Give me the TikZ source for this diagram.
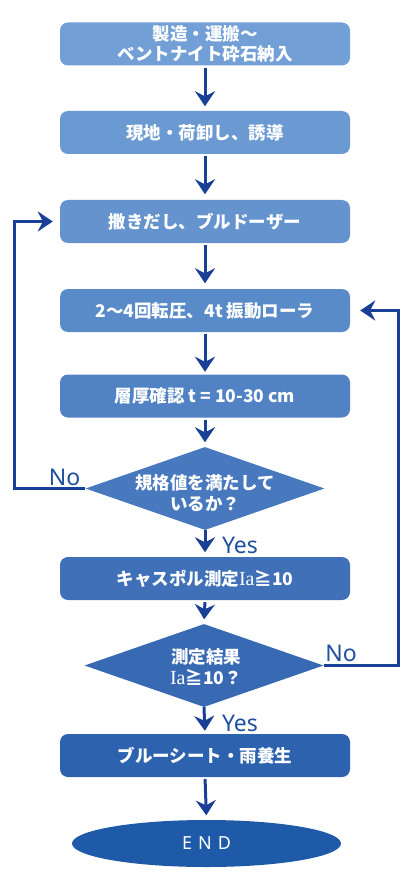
\documentclass[tikz,border=0pt]{standalone}
\usepackage{fontspec}
\usetikzlibrary{shapes.geometric,arrows.meta}
\newfontfamily\jp{Noto Sans CJK JP}
\newfontfamily\lab{Noto Sans}
\newfontfamily\ser{Liberation Serif}
\newcommand{\myIa}{{\ser\mdseries\fontsize{20}{20}\selectfont Ia}}
\definecolor{c1}{HTML}{72A0D6}
\definecolor{c2}{HTML}{6B9AD2}
\definecolor{c3}{HTML}{6493CE}
\definecolor{c4}{HTML}{5A8BC9}
\definecolor{c5}{HTML}{5082C4}
\definecolor{c6}{HTML}{4878BE}
\definecolor{c7}{HTML}{3F70B8}
\definecolor{c8}{HTML}{3869B3}
\definecolor{c9}{HTML}{2D62AE}
\definecolor{c10}{HTML}{1F5AA8}
\definecolor{arrc}{HTML}{1A3F97}
\definecolor{labc}{HTML}{1F4FA0}
\begin{document}
\begin{tikzpicture}[x=1pt,y=-1pt,
  jptext/.style={text=white, font=\jp\bfseries\fontsize{17.5}{20.5}\selectfont, align=center},
  box/.style={rectangle, rounded corners=8pt, minimum width=290pt, minimum height=43pt, inner sep=0pt, jptext},
  dia/.style={diamond, minimum width=239pt, minimum height=83pt, inner sep=0pt},
  arr/.style={draw=arrc, line width=3pt, -{Stealth[length=15pt,width=20pt,inset=5pt]}, shorten >=4.5pt},
  loop/.style={draw=arrc, line width=3pt, -{Stealth[length=15pt,width=20pt,inset=5pt]}},
  yn/.style={text=labc, font=\lab\fontsize{23}{26}\selectfont, inner sep=0pt, anchor=base}
]
\useasboundingbox (0,0) rectangle (407,893);
\node[box, fill=c1] (b1) at (205,44) {製造・運搬～\\ベントナイト砕石納入};
\node[box, fill=c2] (b2) at (205,132.5) {現地・荷卸し、誘導};
\node[box, fill=c3] (b3) at (205,221.5) {撒きだし、ブルドーザー};
\node[box, fill=c4] (b4) at (205,310.5) {2～4回転圧、4t 振動ローラ};
\node[box, fill=c5] (b5) at (205,396) {層厚確認 t\hspace{4pt}=\hspace{4pt}10-30 cm};
\node[dia, fill=c6] (d1) at (205,488.5) {};
\node[jptext, inner sep=0pt] (d1t) at (205,493) {規格値を満たして\\いるか？};
\node[box, fill=c7] (b6) at (205,578.5) {キャスポル測定\myIa≧10};
\node[dia, fill=c8] (d2) at (204,665.5) {};
\node[jptext, inner sep=0pt] (d2t) at (206,667) {測定結果\\\myIa≧10？};
\node[box, fill=c9] (b7) at (205,755.5) {ブルーシート・雨養生};
\node[ellipse, fill=c10, minimum width=269pt, minimum height=47pt, inner sep=0pt, text=white, font=\lab\fontsize{18}{20}\selectfont] (e) at (206.5,843.5) {E\hspace{6pt}N\hspace{6pt}D};

\draw[arr, shorten <=2pt] (b1.south) -- (b2.north);
\draw[arr, shorten <=2pt, shorten >=5.5pt] (b2.south) -- (b3.north);
\draw[arr, shorten <=2pt, shorten >=5.5pt] (b3.south) -- (b4.north);
\draw[arr, shorten <=2pt, shorten >=2.5pt] (b4.south) -- (b5.north);
\draw[arr, shorten <=2pt] (b5.south) -- (d1.north);
\draw[arr] (d1.south) -- (b6.north);
\draw[arr, shorten <=2pt] (b6.south) -- (d2.north);
\draw[arr, shorten >=3pt] (d2.south) -- (b7.north);
\draw[arr, shorten <=2pt] (b7.south) -- (e.north);

\coordinate (l1) at (14,488.5);
\coordinate (l2) at (14,221.5);
\draw[loop, shorten >=7pt] (d1.west) -- (l1) -- (l2) -- (b3.west);
\coordinate (r1) at (398,665.5);
\coordinate (r2) at (398,310.5);
\draw[loop, shorten >=10pt] (d2.east) -- (r1) -- (r2) -- (b4.east);

\node[yn] (no1) at (64.5,485) {No};
\node[yn] (no2) at (341,661) {No};
\node[yn] (yes1) at (240,553) {Yes};
\node[yn] (yes2) at (240,731) {Yes};
\end{tikzpicture}
\end{document}
